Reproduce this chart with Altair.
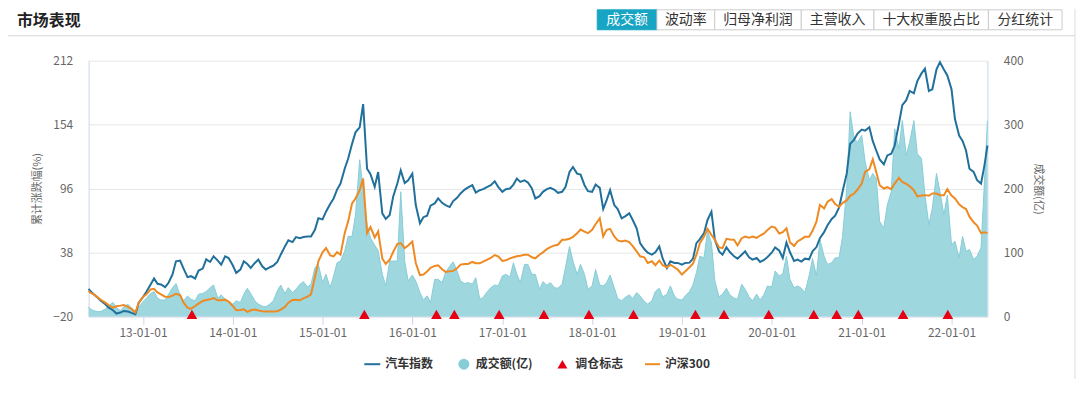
import altair as alt
import pandas as pd

FONT = "Noto Sans CJK SC"

# ---- data (semi-monthly samples) ----
auto_index = [5,
    3, 0, -3, -6, -9, -12, -14.4, -17.4, -16.5, -15, -15.6, -16.8, -18, -7.5,
    -2.4, 2.4, 9, 14.4, 9.6, 9, 6.6, 10.5, 18, 30, 30.6, 23.4, 15.6, 16.5, 14.4, 21.6, 23.4, 31.8, 29.4, 34.5, 30.6, 27, 34.5, 33,
    26.4, 19.5, 22.5, 30, 27.6, 24, 28.5, 31.5, 25.5, 22.5, 24.6, 26.1, 29.4, 36, 43.5, 49, 47.4, 52, 51, 52, 52.5, 52.5, 58.5, 69,
    68, 75, 81.9, 87, 95, 100.5, 114, 123, 136.5, 147, 151.5, 172.5, 114, 109, 97.5, 111, 73.5, 68.4, 72, 88.5, 100.5, 112.5, 101, 103.5,
    109.5, 81, 64.5, 70, 71.4, 80.4, 82.5, 87, 83, 81, 79.2, 84.6, 87.6, 91.5, 95, 97, 99, 92.4, 94.5, 95.4, 97.5, 99, 102.6, 97.5,
    93, 95.4, 96, 99.6, 105, 102, 103.5, 101.4, 96, 87, 89.1, 93, 95.4, 96.6, 94.8, 92.1, 93, 97.5, 111, 115.5, 109.5, 108.6, 99, 93.6,
    93, 99.6, 96.6, 77.4, 85.5, 94.5, 81, 77.4, 69, 70.8, 73.5, 67.5, 60, 46.5, 41.1, 37.8, 36, 38.1, 43.5, 32.4, 24, 30, 28.5, 28.5,
    27, 28.5, 28.8, 32.4, 46.5, 50.1, 55.5, 67.5, 75, 49.5, 39, 36, 42.6, 38.4, 34.5, 32.4, 36, 39, 33.6, 31.5, 33, 29.4, 31.2, 33.9,
    37.8, 42.6, 39.6, 33, 47.1, 38.4, 30.3, 31.5, 29.7, 32.4, 31.8, 39, 42.9, 51, 56.4, 62.7, 68.4, 71.4, 78.9, 93, 109.5, 136.5, 140.4, 145.8,
    149.4, 148.5, 151.5, 138.9, 130.5, 122.4, 117.9, 126, 127.5, 135, 154.5, 171.6, 176.1, 184.5, 182.4, 193.5, 200.4, 204.6, 184.5, 186, 204, 210.6, 204, 198.6,
    186, 159, 144, 139.2, 130.5, 114, 111, 103.5, 100.5, 117,
    135]

hs300 = [3,
    1.5, 0, -2.7, -5.1, -7.5, -9.9, -12, -10.8, -10.2, -9.6, -11.4, -13.2, -16.5, -7.5,
    -2.4, 0, 4.5, 5.1, 1.8, 0, -2.1, -2.4, -1.2, 0.6, -0.6, -7.5, -12, -13.2, -10.5, -8.4, -6, -5.1, -4.5, -3.3, -5.4, -5.4, -4.8, -6.6,
    -10.5, -14.4, -14.1, -13.5, -15.9, -14.4, -13.8, -14.7, -15.3, -15.6, -15.6, -15.6, -15.3, -13.8, -11.4, -7.5, -5.1, -4.8, -5.4, -3.6, -2, 0, 15.6, 30,
    38.1, 42, 35.4, 34.5, 38.4, 36, 55.5, 66, 82.5, 87, 94.5, 105, 55.5, 61, 51.6, 57, 32.4, 27.6, 31.5, 38.4, 45.6, 46.5, 42, 44.4,
    48, 28.5, 17.4, 18, 20.7, 24, 25.8, 26.4, 22.8, 20.4, 21, 21.3, 23.7, 27, 27.6, 27.6, 29.4, 28.2, 28.2, 29.7, 31.5, 33, 35.7, 34.5,
    30.3, 30.9, 32.7, 33.6, 34.5, 35.1, 36, 36, 33.6, 32.7, 36, 38.1, 41.1, 42.9, 44.4, 45, 49.5, 49.5, 50.4, 52.2, 55.5, 58.8, 57, 55.5,
    58.5, 63.6, 69, 52.5, 58.5, 59.4, 52.5, 48.9, 48, 48.9, 47.4, 43.8, 39, 34.5, 33.6, 28.5, 30, 26.4, 30.6, 26.4, 24.6, 27, 24.6, 22.5,
    18, 21, 24.6, 27.9, 36, 46.5, 52.5, 59.4, 54, 49.5, 42.6, 42, 50.4, 49.8, 49.5, 44.4, 51, 52.5, 51.3, 52.5, 51.3, 53.4, 55.2, 58.5,
    61.5, 60.6, 55.2, 56.4, 60, 47.4, 43.8, 48, 50.1, 52.2, 52.2, 57.6, 66, 81, 78, 84, 86.4, 81.9, 79.5, 82.8, 85.2, 89.4, 91.5, 95.1,
    100.5, 111.3, 113.4, 122.4, 111, 99, 96, 97.2, 95.4, 100.5, 105.6, 102, 100.2, 98.1, 94.5, 88.8, 89.7, 90, 89.4, 91.5, 91.5, 90, 90, 95.4,
    89.7, 87, 81.6, 79.2, 77.4, 70.5, 65.4, 62.4, 55.5, 56.4,
    55.5]

volume = [15,
    11.5, 9, 7.3, 8, 11.5, 16.7, 21.8, 14, 9, 15, 19, 13, 8, 14,
    23, 28.6, 35.8, 39, 28.6, 25.5, 25.5, 34.8, 45, 51.3, 33.7, 24.4, 32, 27, 24.4, 34.8, 35.8, 39, 45, 49, 28.6, 33.7, 27, 23,
    19.3, 24.4, 21.8, 34.8, 44, 35.8, 24.4, 19.3, 16.1, 15, 19.3, 24.4, 40, 49, 35.8, 45, 37.3, 42.5, 50.3, 54.4, 46, 50.3, 76, 81.3,
    52.9, 65.8, 45, 63.2, 83.9, 86.5, 102, 125.2, 125.2, 158.8, 245, 200, 143.3, 122.7, 111.3, 103, 65.8, 47.7, 86.5, 86.5, 86.5, 195, 86.5, 55.4,
    64.7, 55.4, 37.3, 25.5, 32.2, 21.8, 58, 58, 52.9, 68.4, 78.7, 85.4, 70.9, 55.4, 51.3, 52.9, 50.3, 60.6, 27, 29.6, 38.9, 45, 49.2, 47.7,
    63.2, 65.8, 61.6, 83.9, 65.8, 52.9, 81.3, 81.3, 65.8, 65.8, 42.5, 54.4, 48.7, 52.9, 45, 44, 50.3, 77.2, 109.7, 86.5, 65.8, 81.3, 65.8, 42.5,
    47.7, 73.5, 49.2, 47.7, 52.9, 64.7, 45, 28, 24.4, 29.6, 33.7, 28, 37.3, 32.2, 23.4, 19.3, 24.4, 39, 44, 30.6, 34.8, 47.7, 32.2, 27,
    25.5, 32.2, 39, 49.2, 68.4, 94.2, 91.6, 134, 115, 55.4, 30.6, 34.8, 44, 33.7, 28.6, 27, 50.3, 42.5, 30.6, 24.4, 34.8, 25.5, 34.8, 47.7,
    46, 71, 63.2, 66.8, 94.2, 58, 45, 47.7, 44, 37.3, 63.2, 90.6, 63.2, 120, 94.2, 81.3, 83.9, 91.6, 91.6, 125.2, 200, 320, 277.7, 272.6,
    283, 241.6, 213.1, 223.5, 215.7, 148.5, 138.2, 174.3, 195, 293.3, 262.2, 306.2, 251.9, 272.6, 306.2, 254.5, 246.7, 189.9, 143.3, 169.2, 223.5, 195, 158.8, 189.9,
    112.3, 117.5, 91.6, 125.2, 102, 104.6, 89, 94.2, 107.1, 210.5,
    306]

dates = (["2012-05-25"]
         + [d.strftime("%Y-%m-%d") for d in pd.date_range("2012-06-01", "2022-05-15", freq="SMS")]
         + ["2022-05-27"])

rebalance_dates = ["2013-07-19", "2015-06-20", "2016-04-08", "2016-06-20", "2016-12-19",
                   "2017-06-19", "2017-12-19", "2018-06-18", "2019-02-25", "2019-06-21",
                   "2019-12-20", "2020-06-20", "2020-09-21", "2020-12-18", "2021-06-18",
                   "2021-12-17"]
marker_level = -20

left_ticks = [-20, 38, 96, 154, 212]
right_ticks = [0, 100, 200, 300, 400]
year_ticks = list(range(2013, 2023))

buttons = ["成交额", "波动率", "归母净利润", "主营收入", "十大权重股占比", "分红统计"]

n = min(len(dates), len(auto_index), len(hs300), len(volume))
df = pd.DataFrame({"date": dates[:n], "auto": auto_index[:n], "hs300": hs300[:n], "vol": volume[:n]})
tri_df = pd.DataFrame({"date": rebalance_dates, "level": [marker_level] * len(rebalance_dates)})
one = pd.DataFrame({"k": [0]})

BLUE = "#21709b"
ORANGE = "#ee8a22"
AREA = "#9fd7df"
RED = "#e60012"
AXC = "#ccd6eb"

xscale = alt.Scale(type="utc",
                   domain=[alt.DateTime(year=2012, month=5, date=25, utc=True),
                           alt.DateTime(year=2022, month=5, date=27, utc=True)])
xaxis = alt.Axis(values=[alt.DateTime(year=y, month=1, date=1, utc=True) for y in year_ticks],
                 format="%y-%m-%d", labelColor="#666", labelFontSize=12, tickColor=AXC,
                 tickSize=8, domainColor=AXC, grid=False, labelPadding=3, labelOverlap=False,
                 title=None)
X = alt.X("date:T", scale=xscale, axis=xaxis)

lscale = alt.Scale(domain=[-20, 212], nice=False, zero=False)
laxis = alt.Axis(orient="left", values=left_ticks, grid=True, gridColor="#e6e6e6", ticks=False,
                 tickSize=0, domainColor=AXC, labelPadding=16, labelColor="#666", labelFontSize=12,
                 title="累计涨跌幅(%)", titleColor="#666", titleFontSize=11, titleFontWeight="normal",
                 titlePadding=10)
rscale = alt.Scale(domain=[0, 400], nice=False)
raxis = alt.Axis(orient="right", values=right_ticks, grid=False, ticks=False, tickSize=0,
                 domainColor=AXC, labelPadding=16, labelColor="#666", labelFontSize=12,
                 title="成交额(亿)", titleColor="#666", titleFontSize=11, titleFontWeight="normal",
                 titlePadding=9, titleAngle=90)

area = alt.Chart(df).mark_area(color=AREA, opacity=1, line={"color": "#86cdd8", "strokeWidth": 1}).encode(
    x=X, y=alt.Y("vol:Q", scale=rscale, axis=raxis))

blue = alt.Chart(df).mark_line(color=BLUE, strokeWidth=2).encode(
    x=X, y=alt.Y("auto:Q", scale=lscale, axis=laxis))
orange = alt.Chart(df).mark_line(color=ORANGE, strokeWidth=2).encode(
    x=X, y=alt.Y("hs300:Q", scale=lscale, axis=laxis))
tri = alt.Chart(tri_df).mark_point(shape="triangle-up", filled=True, color=RED, opacity=1,
                                   size=115, yOffset=-2).encode(
    x=X, y=alt.Y("level:Q", scale=lscale, axis=laxis))

lines = alt.layer(blue, orange, tri)


def txt(s, x, y, size=12, color="#333", weight="normal", align="left"):
    return alt.Chart(one).mark_text(text=s, fontSize=size, color=color, fontWeight=weight,
                                    align=align, baseline="middle", font=FONT).encode(
        x=alt.value(x), y=alt.value(y))


def rect(x, x2, y, y2, fill, stroke):
    return alt.Chart(one).mark_rect(fill=fill, stroke=stroke, strokeWidth=1).encode(
        x=alt.value(x), x2=alt.value(x2), y=alt.value(y), y2=alt.value(y2))


def hrule(x, x2, y, color, w=1):
    return alt.Chart(one).mark_rule(color=color, strokeWidth=w).encode(
        x=alt.value(x), x2=alt.value(x2), y=alt.value(y))


def vrule(x, y, y2, color, w=1):
    return alt.Chart(one).mark_rule(color=color, strokeWidth=w).encode(
        x=alt.value(x), y=alt.value(y), y2=alt.value(y2))


decos = []
# card header
decos.append(hrule(-81, 991, -25, "#d6d6d6"))
decos.append(vrule(991, -52, 325, "#dddddd"))
decos.append(txt("市场表现", -72, -40, size=16, color="#222", weight="bold"))
# buttons
edges = [511, 571, 629, 716, 789, 904, 978]
for i, b in enumerate(buttons):
    sel = i == 0
    decos.append(rect(edges[i], edges[i + 1], -51, -31, "#17a5c3" if sel else "#ffffff",
                      "#17a5c3" if sel else "#cccccc"))
    decos.append(txt(b, (edges[i] + edges[i + 1]) / 2, -41, size=14,
                     color="#ffffff" if sel else "#333", align="center"))
# legend
LY = 305
decos.append(hrule(277, 293, LY, BLUE, 2))
decos.append(txt("汽车指数", 298, LY, weight="bold"))
decos.append(alt.Chart(one).mark_point(shape="circle", filled=True, color="#86cdd8", opacity=1,
                                       size=120).encode(x=alt.value(377), y=alt.value(LY)))
decos.append(txt("成交额(亿)", 389, LY, weight="bold"))
decos.append(alt.Chart(one).mark_point(shape="triangle-up", filled=True, color=RED, opacity=1,
                                       size=100).encode(x=alt.value(476), y=alt.value(LY)))
decos.append(txt("调仓标志", 489, LY, weight="bold"))
decos.append(hrule(559, 574, LY, ORANGE, 2))
decos.append(txt("沪深300", 579, LY, weight="bold"))

chart = alt.layer(area, lines, *decos).resolve_scale(y="independent").properties(
    width=903, height=257,
    padding={"left": 81, "top": 52, "right": 90, "bottom": 62},
    autosize=alt.AutoSizeParams(type="none"),
).configure_view(strokeWidth=0).configure_axis(labelFont=FONT, titleFont=FONT)

chart.save("out.html", embed_options={"renderer": "svg", "actions": False})
